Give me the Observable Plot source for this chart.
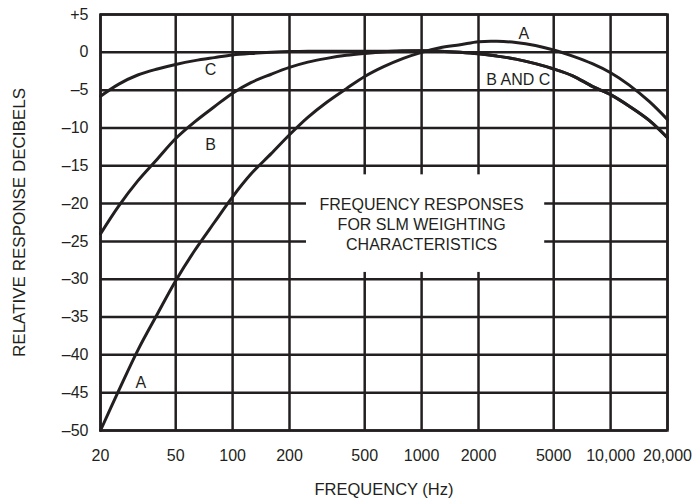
<!DOCTYPE html>
<html>
<head>
<meta charset="utf-8">
<script src="https://cdn.jsdelivr.net/npm/d3@7"></script>
<script src="https://cdn.jsdelivr.net/npm/@observablehq/plot@0.6"></script>
<style>
  html, body { margin: 0; padding: 0; background: #fff; }
  #chart { width: 696px; height: 502px; }
</style>
</head>
<body>
<div id="chart"></div>
<script>
// Third-octave frequencies (Hz)
const freqs = [20, 25, 31.5, 40, 50, 63, 80, 100, 125, 160, 200, 250, 315, 400, 500, 630, 800, 1000, 1250, 1600, 2000, 2500, 3150, 4000, 5000, 6300, 8000, 10000, 12500, 16000, 20000];
// Relative response (dB)
const weightA = [-50.0, -44.7, -39.4, -34.6, -30.2, -26.2, -22.5, -19.1, -16.1, -13.4, -10.9, -8.6, -6.6, -4.8, -3.2, -1.9, -0.8, 0.0, 0.6, 1.0, 1.4, 1.45, 1.3, 0.9, 0.3, -0.5, -1.5, -2.7, -4.3, -6.5, -8.9];
const weightB = [-24.0, -20.3, -17.0, -14.1, -11.4, -9.2, -7.2, -5.4, -4.0, -2.9, -2.0, -1.3, -0.8, -0.4, -0.15, 0.05, 0.15, 0.2, 0.15, 0.0, -0.2, -0.5, -0.9, -1.5, -2.2, -3.1, -4.5, -5.6, -7.1, -9.0, -11.3];
const weightC = [-5.8, -4.2, -3.0, -2.2, -1.6, -1.1, -0.7, -0.35, -0.15, 0.0, 0.1, 0.15, 0.15, 0.15, 0.15, 0.15, 0.2, 0.2, 0.15, 0.0, -0.2, -0.5, -0.9, -1.5, -2.2, -3.1, -4.5, -5.6, -7.1, -9.0, -11.3];

// Axis ticks
const xTicks = [20, 50, 100, 200, 500, 1000, 2000, 5000, 10000, 20000];
const xTickLabels = ["20", "50", "100", "200", "500", "1000", "2000", "5000", "10,000", "20,000"];
const yTicks = [5, 0, -5, -10, -15, -20, -25, -30, -35, -40, -45, -50];
const yTickLabels = ["+5", "0", "\u20135", "\u201310", "\u201315", "\u201320", "\u201325", "\u201330", "\u201335", "\u201340", "\u201345", "\u201350"];
const xTitle = "FREQUENCY (Hz)";
const yTitle = "RELATIVE RESPONSE DECIBELS";

// Curve labels
const labelText = ["A", "B AND C", "C", "B", "A"];
const labelFreq = [3470, 3245, 76.4, 76.4, 32.7];
const labelDb = [2.5, -3.6, -2.35, -12.2, -43.7];

// Annotation box
const noteText = "FREQUENCY RESPONSES\nFOR SLM WEIGHTING\nCHARACTERISTICS";
const noteFreq = 1000;
const noteDb = -22.7;
const boxFreq = [246, 4480];
const boxDb = [-16.2, -29.1];

const ink = "#231f20";

const rows = [];
[["A", weightA], ["B", weightB], ["C", weightC]].forEach(([name, vals]) => {
  freqs.forEach((f, i) => rows.push({curve: name, freq: f, db: vals[i]}));
});
const labels = labelText.map((t, i) => ({text: t, freq: labelFreq[i], db: labelDb[i]}));
const xTickRows = xTicks.map((v, i) => ({v, label: xTickLabels[i]}));

const chart = Plot.plot({
  width: 696,
  height: 502,
  marginLeft: 100,
  marginRight: 29,
  marginTop: 14,
  marginBottom: 72,
  style: {fontFamily: "'Liberation Sans', Arial, Helvetica, sans-serif", fontSize: "16px", color: ink, background: "#fff"},
  x: {type: "log", domain: [20, 20000], axis: null},
  y: {domain: [-50, 5]},
  marks: [
    Plot.ruleX(xTicks, {stroke: ink, strokeWidth: 2.5}),
    Plot.ruleY(yTicks, {stroke: ink, strokeWidth: 2.5}),
    Plot.frame({stroke: ink, strokeWidth: 2.5}),
    Plot.rect([{}], {x1: () => boxFreq[0], x2: () => boxFreq[1], y1: () => boxDb[0], y2: () => boxDb[1], fill: "#fff"}),
    Plot.line(rows, {x: "freq", y: "db", z: "curve", curve: "catmull-rom", stroke: ink, strokeWidth: 3}),
    Plot.text(labels, {x: "freq", y: "db", text: "text", fill: ink, fontSize: 16}),
    Plot.text([noteText], {x: () => noteFreq, y: () => noteDb, text: d => d, fill: ink, fontSize: 16, lineHeight: 1.25}),
    // x tick labels (all shown, as in the reference)
    Plot.text(xTickRows, {x: "v", text: "label", frameAnchor: "bottom", dy: 30, fill: ink, fontSize: 16}),
    // x axis title
    Plot.text([xTitle], {text: d => d, frameAnchor: "bottom", dy: 64, fill: ink, fontSize: 16.5}),
    Plot.axisY({
      ticks: yTicks,
      tickFormat: d => yTickLabels[yTicks.indexOf(d)],
      tickSize: 0,
      tickPadding: 12,
      fontSize: 16,
      label: yTitle,
      labelAnchor: "center",
      labelArrow: "none",
      labelOffset: 88
    })
  ]
});
// slightly larger y title to match the reference
chart.querySelectorAll("text").forEach(t => {
  if (t.textContent === yTitle) t.setAttribute("font-size", "17");
});
document.getElementById("chart").appendChild(chart);
</script>
</body>
</html>
